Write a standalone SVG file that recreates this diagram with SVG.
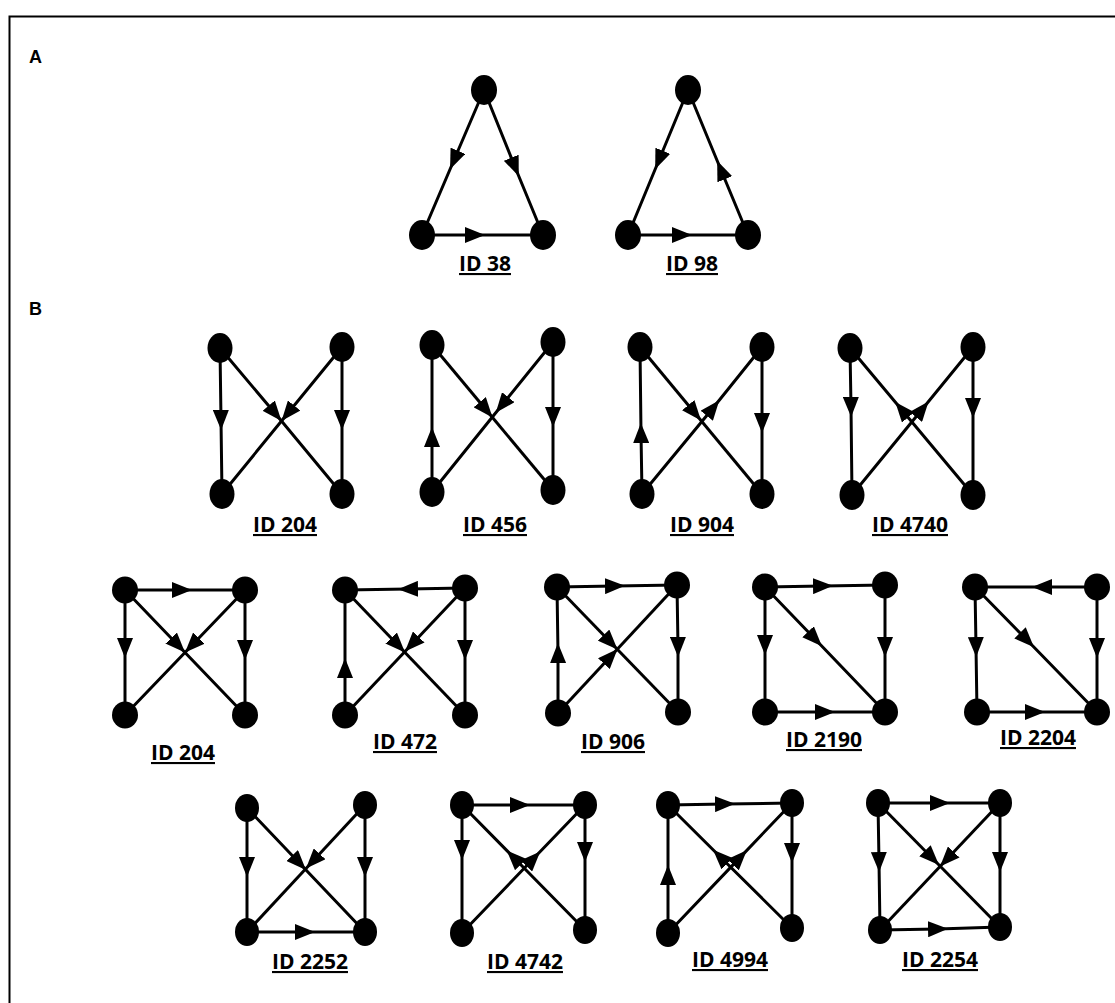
<svg xmlns="http://www.w3.org/2000/svg" width="1115" height="1003" viewBox="0 0 1115 1003">
<style>
.e{fill:none;stroke:#000;stroke-width:3}
.n{fill:#000}
.lbl{font-family:"Open Sans","Liberation Sans",sans-serif;font-weight:700;font-size:21px;text-anchor:middle;text-decoration:underline;fill:#000}
.pl{font-family:"Liberation Sans",Arial,sans-serif;font-weight:700;font-size:18px;fill:#000}
.am{marker-mid:url(#am)}
.at{marker-mid:url(#at)}
</style>
<defs>
<marker id="am" viewBox="0 0 20 16" refX="10" refY="8" markerWidth="20" markerHeight="16" markerUnits="userSpaceOnUse" orient="auto"><path d="M0,0 L20,8 L0,16 z" fill="#000"/></marker>
<marker id="at" viewBox="0 0 20 16" refX="20" refY="8" markerWidth="20" markerHeight="16" markerUnits="userSpaceOnUse" orient="auto"><path d="M0,0 L20,8 L0,16 z" fill="#000"/></marker>
</defs>
<rect width="1115" height="1003" fill="#fff"/>
<g id="frame"><path d="M9.5,1003 V16.5 H1115" fill="none" stroke="#000" stroke-width="2"/></g>
<g id="panel-labels">
<text class="pl" x="29" y="63">A</text>
<text class="pl" x="29" y="315">B</text>
</g>
<g id="connectors">
<!-- ID 38 -->
<path class="e am" d="M484,90 L454,160 L422,235"/>
<path class="e am" d="M484,90 L515,167 L543,235"/>
<path class="e am" d="M422,235 L475,235 L543,235"/>
<!-- ID 98 -->
<path class="e am" d="M688,90 L659,160 L628,235"/>
<path class="e am" d="M748,235 L721,170 L688,90"/>
<path class="e am" d="M628,235 L682,235 L748,235"/>
<!-- ID 204 row1 -->
<path class="e am" d="M220,348 L221,420 L222,494"/>
<path class="e am" d="M342,347 L342,420 L342,494"/>
<path class="e at" d="M220,348 L281.5,421 L342,494"/>
<path class="e at" d="M342,347 L281.5,421 L222,494"/>
<!-- ID 456 -->
<path class="e am" d="M432,492 L432,437 L432,345"/>
<path class="e am" d="M553,342 L553,417 L553,490"/>
<path class="e at" d="M432,345 L492.5,417.5 L553,490"/>
<path class="e am" d="M553,342 L502,405 L432,492"/>
<!-- ID 904 -->
<path class="e am" d="M642,494 L641,433 L640,347"/>
<path class="e am" d="M762,347 L762,423 L762,494"/>
<path class="e at" d="M640,347 L701,420.5 L762,494"/>
<path class="e am" d="M642,494 L713,408 L762,347"/>
<!-- ID 4740 -->
<path class="e am" d="M850,348 L851,407 L852,495"/>
<path class="e am" d="M973,347 L973,408 L973,495"/>
<path class="e am" d="M973,495 L901.7,409.7 L850,348"/>
<path class="e am" d="M852,495 L922.2,409.2 L973,347"/>
<!-- ID 204 row2 -->
<path class="e am" d="M125,590 L182,590 L245,590"/>
<path class="e am" d="M125,590 L125,648 L125,715"/>
<path class="e am" d="M245,590 L245,650 L245,715"/>
<path class="e at" d="M125,590 L185,652.5 L245,715"/>
<path class="e at" d="M245,590 L185,652.5 L125,715"/>
<!-- ID 472 -->
<path class="e am" d="M465,588 L408,589 L345,590"/>
<path class="e am" d="M345,715 L345,668 L345,590"/>
<path class="e am" d="M465,588 L465,650 L465,715"/>
<path class="e at" d="M345,590 L405,652.5 L465,715"/>
<path class="e at" d="M465,588 L405,651.5 L345,715"/>
<!-- ID 906 -->
<path class="e am" d="M557,587 L615,586 L677,585"/>
<path class="e am" d="M558,713 L558,653 L557,587"/>
<path class="e am" d="M677,585 L678,647 L678,712"/>
<path class="e at" d="M557,587 L617.5,649.5 L678,712"/>
<path class="e at" d="M558,713 L617.5,649 L677,585"/>
<!-- ID 2190 -->
<path class="e am" d="M765,587 L823,586 L885,585"/>
<path class="e am" d="M765,587 L765,645 L765,712"/>
<path class="e am" d="M885,585 L885,647 L885,712"/>
<path class="e am" d="M765,712 L825,712 L885,712"/>
<path class="e am" d="M765,587 L815,639 L885,712"/>
<!-- ID 2204 -->
<path class="e am" d="M1097,587 L1042,587 L975,587"/>
<path class="e am" d="M975,587 L976,647 L977,712"/>
<path class="e am" d="M1097,587 L1097,648 L1097,712"/>
<path class="e am" d="M977,712 L1035,712 L1097,712"/>
<path class="e am" d="M975,587 L1027,640 L1097,712"/>
<!-- ID 2252 -->
<path class="e am" d="M247,808 L247,867 L247,932"/>
<path class="e am" d="M365,805 L365,867 L365,932"/>
<path class="e am" d="M247,932 L305,932 L365,932"/>
<path class="e at" d="M247,808 L306,870 L365,932"/>
<path class="e at" d="M365,805 L306,868.5 L247,932"/>
<!-- ID 4742 -->
<path class="e am" d="M462,805 L520,805 L585,805"/>
<path class="e am" d="M462,805 L462,850 L462,933"/>
<path class="e am" d="M585,805 L585,852 L585,930"/>
<path class="e am" d="M585,930 L513.7,857.5 L462,805"/>
<path class="e am" d="M462,933 L533.3,858.8 L585,805"/>
<!-- ID 4994 -->
<path class="e am" d="M668,805 L725,804 L792,803"/>
<path class="e am" d="M668,933 L668,875 L668,805"/>
<path class="e am" d="M792,803 L792,853 L792,928"/>
<path class="e am" d="M792,928 L720.1,856.7 L668,805"/>
<path class="e am" d="M668,933 L739.9,857.6 L792,803"/>
<!-- ID 2254 -->
<path class="e am" d="M878,803 L940,803 L1000,803"/>
<path class="e am" d="M878,803 L879,862 L880,930"/>
<path class="e am" d="M1000,803 L1000,862 L1000,927"/>
<path class="e am" d="M880,930 L938,929 L1000,927"/>
<path class="e at" d="M878,803 L939,865 L1000,927"/>
<path class="e at" d="M1000,803 L940,866.5 L880,930"/>
</g>
<!-- Panel A nodes -->
<g id="id38-t"><ellipse class="n" cx="484" cy="90" rx="13" ry="15"/></g>
<g id="id38-l"><ellipse class="n" cx="422" cy="235" rx="13" ry="15"/></g>
<g id="id38-r"><ellipse class="n" cx="543" cy="235" rx="13" ry="15"/></g>
<g id="id98-t"><ellipse class="n" cx="688" cy="90" rx="13" ry="15"/></g>
<g id="id98-l"><ellipse class="n" cx="628" cy="235" rx="13" ry="15"/></g>
<g id="id98-r"><ellipse class="n" cx="748" cy="235" rx="13" ry="15"/></g>
<!-- Row 1 nodes -->
<g id="r1a-tl"><ellipse class="n" cx="220" cy="348" rx="12.5" ry="15"/></g>
<g id="r1a-tr"><ellipse class="n" cx="342" cy="347" rx="12.5" ry="15"/></g>
<g id="r1a-bl"><ellipse class="n" cx="222" cy="494" rx="12.5" ry="15"/></g>
<g id="r1a-br"><ellipse class="n" cx="342" cy="494" rx="12.5" ry="15"/></g>
<g id="r1b-tl"><ellipse class="n" cx="432" cy="345" rx="12.5" ry="15"/></g>
<g id="r1b-tr"><ellipse class="n" cx="553" cy="342" rx="12.5" ry="15"/></g>
<g id="r1b-bl"><ellipse class="n" cx="432" cy="492" rx="12.5" ry="15"/></g>
<g id="r1b-br"><ellipse class="n" cx="553" cy="490" rx="12.5" ry="15"/></g>
<g id="r1c-tl"><ellipse class="n" cx="640" cy="347" rx="12.5" ry="15"/></g>
<g id="r1c-tr"><ellipse class="n" cx="762" cy="347" rx="12.5" ry="15"/></g>
<g id="r1c-bl"><ellipse class="n" cx="642" cy="494" rx="12.5" ry="15"/></g>
<g id="r1c-br"><ellipse class="n" cx="762" cy="494" rx="12.5" ry="15"/></g>
<g id="r1d-tl"><ellipse class="n" cx="850" cy="348" rx="12.5" ry="15"/></g>
<g id="r1d-tr"><ellipse class="n" cx="973" cy="347" rx="12.5" ry="15"/></g>
<g id="r1d-bl"><ellipse class="n" cx="852" cy="495" rx="12.5" ry="15"/></g>
<g id="r1d-br"><ellipse class="n" cx="973" cy="495" rx="12.5" ry="15"/></g>
<!-- Row 2 nodes -->
<g id="r2a-tl"><ellipse class="n" cx="125" cy="590" rx="13" ry="13.5"/></g>
<g id="r2a-tr"><ellipse class="n" cx="245" cy="590" rx="13" ry="13.5"/></g>
<g id="r2a-bl"><ellipse class="n" cx="125" cy="715" rx="13" ry="13.5"/></g>
<g id="r2a-br"><ellipse class="n" cx="245" cy="715" rx="13" ry="13.5"/></g>
<g id="r2b-tl"><ellipse class="n" cx="345" cy="590" rx="13" ry="13.5"/></g>
<g id="r2b-tr"><ellipse class="n" cx="465" cy="588" rx="13" ry="13.5"/></g>
<g id="r2b-bl"><ellipse class="n" cx="345" cy="715" rx="13" ry="13.5"/></g>
<g id="r2b-br"><ellipse class="n" cx="465" cy="715" rx="13" ry="13.5"/></g>
<g id="r2c-tl"><ellipse class="n" cx="557" cy="587" rx="13" ry="13.5"/></g>
<g id="r2c-tr"><ellipse class="n" cx="677" cy="585" rx="13" ry="13.5"/></g>
<g id="r2c-bl"><ellipse class="n" cx="558" cy="713" rx="13" ry="13.5"/></g>
<g id="r2c-br"><ellipse class="n" cx="678" cy="712" rx="13" ry="13.5"/></g>
<g id="r2d-tl"><ellipse class="n" cx="765" cy="587" rx="13" ry="13.5"/></g>
<g id="r2d-tr"><ellipse class="n" cx="885" cy="585" rx="13" ry="13.5"/></g>
<g id="r2d-bl"><ellipse class="n" cx="765" cy="712" rx="13" ry="13.5"/></g>
<g id="r2d-br"><ellipse class="n" cx="885" cy="712" rx="13" ry="13.5"/></g>
<g id="r2e-tl"><ellipse class="n" cx="975" cy="587" rx="13" ry="13.5"/></g>
<g id="r2e-tr"><ellipse class="n" cx="1097" cy="587" rx="13" ry="13.5"/></g>
<g id="r2e-bl"><ellipse class="n" cx="977" cy="712" rx="13" ry="13.5"/></g>
<g id="r2e-br"><ellipse class="n" cx="1097" cy="712" rx="13" ry="13.5"/></g>
<!-- Row 3 nodes -->
<g id="r3a-tl"><ellipse class="n" cx="247" cy="808" rx="12" ry="14"/></g>
<g id="r3a-tr"><ellipse class="n" cx="365" cy="805" rx="12" ry="14"/></g>
<g id="r3a-bl"><ellipse class="n" cx="247" cy="932" rx="12" ry="14"/></g>
<g id="r3a-br"><ellipse class="n" cx="365" cy="932" rx="12" ry="14"/></g>
<g id="r3b-tl"><ellipse class="n" cx="462" cy="805" rx="12" ry="14"/></g>
<g id="r3b-tr"><ellipse class="n" cx="585" cy="805" rx="12" ry="14"/></g>
<g id="r3b-bl"><ellipse class="n" cx="462" cy="933" rx="12" ry="14"/></g>
<g id="r3b-br"><ellipse class="n" cx="585" cy="930" rx="12" ry="14"/></g>
<g id="r3c-tl"><ellipse class="n" cx="668" cy="805" rx="12" ry="14"/></g>
<g id="r3c-tr"><ellipse class="n" cx="792" cy="803" rx="12" ry="14"/></g>
<g id="r3c-bl"><ellipse class="n" cx="668" cy="933" rx="12" ry="14"/></g>
<g id="r3c-br"><ellipse class="n" cx="792" cy="928" rx="12" ry="14"/></g>
<g id="r3d-tl"><ellipse class="n" cx="878" cy="803" rx="12" ry="14"/></g>
<g id="r3d-tr"><ellipse class="n" cx="1000" cy="803" rx="12" ry="14"/></g>
<g id="r3d-bl"><ellipse class="n" cx="880" cy="930" rx="12" ry="14"/></g>
<g id="r3d-br"><ellipse class="n" cx="1000" cy="927" rx="12" ry="14"/></g>
<g id="labels">
<text class="lbl" x="485" y="271">ID 38</text>
<text class="lbl" x="692" y="271">ID 98</text>
<text class="lbl" x="285" y="532">ID 204</text>
<text class="lbl" x="495" y="532">ID 456</text>
<text class="lbl" x="702" y="532">ID 904</text>
<text class="lbl" x="910" y="532">ID 4740</text>
<text class="lbl" x="183" y="760">ID 204</text>
<text class="lbl" x="405" y="749">ID 472</text>
<text class="lbl" x="613" y="749">ID 906</text>
<text class="lbl" x="824" y="747">ID 2190</text>
<text class="lbl" x="1038" y="745">ID 2204</text>
<text class="lbl" x="310" y="969">ID 2252</text>
<text class="lbl" x="525" y="969">ID 4742</text>
<text class="lbl" x="730" y="967">ID 4994</text>
<text class="lbl" x="940" y="967">ID 2254</text>
</g>
</svg>
